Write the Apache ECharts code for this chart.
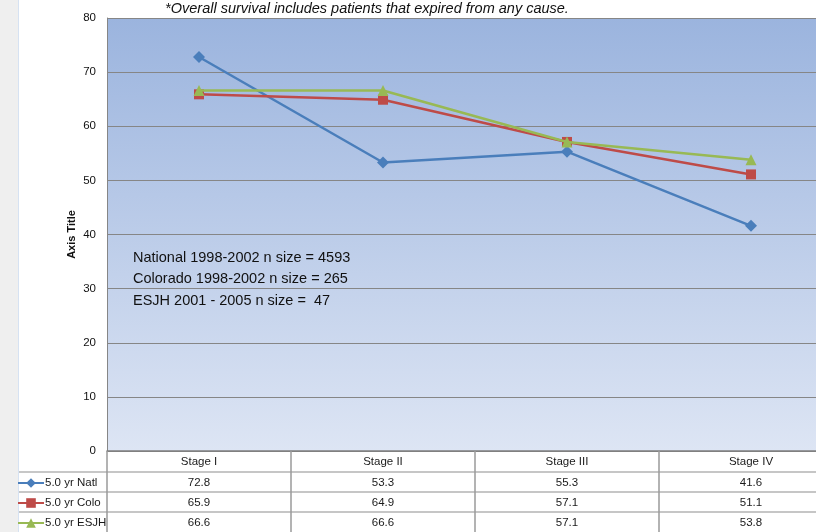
<!DOCTYPE html>
<html>
<head>
<meta charset="utf-8">
<script src="https://cdn.jsdelivr.net/npm/echarts@6/dist/echarts.min.js"></script>
<style>
  html, body { margin: 0; padding: 0; background: #ffffff; }
  #chart { width: 816px; height: 532px; }
</style>
</head>
<body>
<div id="chart"></div>
<script>
// Five-year survival by stage
const stages = ['Stage I', 'Stage II', 'Stage III', 'Stage IV'];
const natl = [72.8, 53.3, 55.3, 41.6];
const colo = [65.9, 64.9, 57.1, 51.1];
const esjh = [66.6, 66.6, 57.1, 53.8];
const seriesNames = ['5.0 yr Natl', '5.0 yr Colo', '5.0 yr ESJH'];
const yMin = 0, yMax = 80, yStep = 10;
const footnote = '*Overall survival includes patients that expired from any cause.';
const sampleNotes = [
  'National 1998-2002 n size = 4593',
  'Colorado 1998-2002 n size = 265',
  'ESJH 2001 - 2005 n size =  47'
];

const FONT = 'Liberation Sans';
const colors = ['#4a7ebb', '#be4b48', '#98b954'];
const symbols = ['diamond', 'rect', 'triangle'];
const symbolSizes = [12, 10, 11];
const rows = [natl, colo, esjh];

const chart = echarts.init(document.getElementById('chart'));

// data-table rows are drawn as extra category axes stacked under the plot
const rowAxes = rows.map((vals, i) => ({
  type: 'category',
  data: stages,
  gridIndex: 0,
  position: 'bottom',
  offset: 21 + 20 * i,
  axisLine: { show: true, lineStyle: { color: '#b4b4b4', width: 1.5 } },
  axisTick: { show: true, length: 20, interval: 0, lineStyle: { color: '#9a9a9a', width: 1.5 } },
  axisLabel: {
    margin: 5, fontFamily: FONT, fontSize: 11.5, color: '#1a1a1a',
    formatter: (v, idx) => vals[idx].toFixed(1)
  }
}));

const option = {
  animation: false,
  backgroundColor: '#ffffff',
  title: {
    text: footnote,
    left: 367, top: 1, padding: 0, textAlign: 'center',
    textStyle: { fontFamily: FONT, fontSize: 14.5, fontStyle: 'italic', fontWeight: 'normal', color: '#111' }
  },
  grid: {
    left: 107, top: 18, width: 736, height: 433,
    outerBoundsMode: 'none',
    containLabel: false,
    show: true, borderWidth: 0,
    backgroundColor: new echarts.graphic.LinearGradient(0, 0, 0, 1, [
      { offset: 0, color: '#9bb4de' },
      { offset: 1, color: '#dde5f4' }
    ])
  },
  legend: {
    orient: 'vertical',
    left: 17, top: 477, padding: 0,
    itemWidth: 26, itemHeight: 12, itemGap: 8,
    textStyle: { fontFamily: FONT, fontSize: 11.5, lineHeight: 12, color: '#1a1a1a', padding: [0, 0, 0, -4] },
    data: seriesNames
  },
  xAxis: [{
    type: 'category',
    data: stages,
    position: 'bottom',
    axisLine: { show: true, lineStyle: { color: '#7f7f7f', width: 1.5 } },
    axisTick: { show: true, length: 21, interval: 0, lineStyle: { color: '#9a9a9a', width: 1.5 } },
    axisLabel: { margin: 5, fontFamily: FONT, fontSize: 11.5, color: '#1a1a1a' }
  }].concat(rowAxes),
  yAxis: {
    type: 'value',
    min: yMin, max: yMax, interval: yStep,
    name: 'Axis Title',
    nameLocation: 'middle',
    nameGap: 30,
    nameMoveOverlap: false,
    nameRotate: 90,
    nameTextStyle: { fontFamily: FONT, fontSize: 11, fontWeight: 'bold', color: '#111' },
    axisLine: { show: true, lineStyle: { color: '#868686' } },
    axisTick: { show: false },
    axisLabel: { margin: 11, fontFamily: FONT, fontSize: 11.5, color: '#111' },
    splitLine: { show: true, lineStyle: { color: '#868686', width: 1 } }
  },
  series: rows.map((vals, i) => ({
    name: seriesNames[i],
    type: 'line',
    data: vals,
    xAxisIndex: 0,
    symbol: symbols[i],
    symbolSize: symbolSizes[i],
    itemStyle: { color: colors[i] },
    lineStyle: { color: colors[i], width: 2.5 },
    z: 3 + i
  })),
  graphic: [
    { type: 'rect', shape: { x: 0, y: 0, width: 18, height: 532 }, style: { fill: '#efefef' }, silent: true },
    { type: 'line', shape: { x1: 18.5, y1: 0, x2: 18.5, y2: 532 }, style: { stroke: '#d6e2f2', lineWidth: 1 }, silent: true },
    { type: 'line', shape: { x1: 19, y1: 472, x2: 107, y2: 472 }, style: { stroke: '#b4b4b4', lineWidth: 1.5 }, silent: true },
    { type: 'line', shape: { x1: 19, y1: 492, x2: 107, y2: 492 }, style: { stroke: '#b4b4b4', lineWidth: 1.5 }, silent: true },
    { type: 'line', shape: { x1: 19, y1: 512, x2: 107, y2: 512 }, style: { stroke: '#b4b4b4', lineWidth: 1.5 }, silent: true },
    {
      type: 'group', left: 133, top: 250, silent: true,
      children: sampleNotes.map((t, i) => ({
        type: 'text', x: 0, y: i * 21.7,
        style: { text: t, fontFamily: FONT, fontSize: 14.5, fill: '#111' }
      }))
    }
  ]
};

chart.setOption(option);
</script>
</body>
</html>
